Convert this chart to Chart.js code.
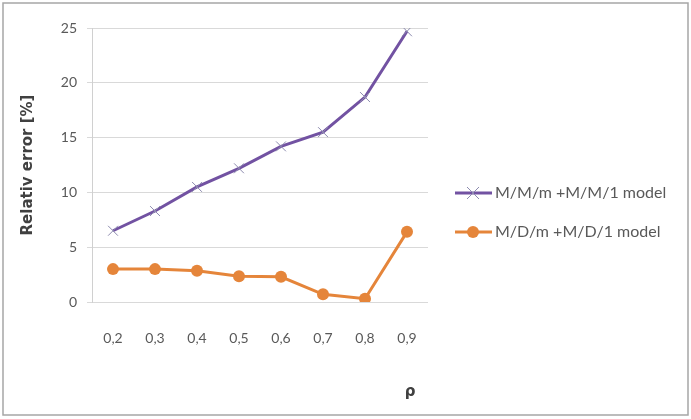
<!DOCTYPE html>
<html>
<head>
<meta charset="utf-8">
<script src="https://cdn.jsdelivr.net/npm/chart.js@4/dist/chart.umd.min.js"></script>
<style>
  html, body { margin: 0; padding: 0; background: #fff; }
  #wrap { position: relative; width: 691px; height: 419px; }
</style>
</head>
<body>
<div id="wrap"><canvas id="chart" width="691" height="419"></canvas></div>
<script>
// valeurs
const rhoLabels = ['0,2', '0,3', '0,4', '0,5', '0,6', '0,7', '0,8', '0,9'];
const mmValues = [6.5, 8.3, 10.5, 12.2, 14.2, 15.5, 18.7, 24.7];
const mdValues = [3.0, 3.0, 2.85, 2.35, 2.3, 0.7, 0.3, 6.4];
const seriesNames = ['M/M/m +M/M/1 model', 'M/D/m +M/D/1 model'];
const yTitle = 'Relativ error [%]';
const xTitle = 'ρ';

const purple = '#7252a2';
const crossColor = '#8c8aae';
const orange = '#e5853a';
const fontName = 'Lato, "Open Sans", sans-serif';

// legende dessinee a la main (ligne + marqueur comme dans Excel) + cadre + titre x
const extras = {
    id: 'extras',
    afterDraw(chart) {
        const ctx = chart.ctx;
        ctx.save();
        // cadre
        ctx.strokeStyle = '#a6a6a6';
        ctx.lineWidth = 1.5;
        ctx.strokeRect(3, 3, 685, 412);

        // titre x
        ctx.fillStyle = '#404040';
        ctx.font = 'bold 15px "DejaVu Sans", sans-serif';
        ctx.textAlign = 'center';
        ctx.textBaseline = 'middle';
        ctx.fillText(xTitle, 410, 392);

        // legende
        const rows = [193, 232];
        chart.data.datasets.forEach((ds, i) => {
            const y = rows[i];
            ctx.strokeStyle = ds.borderColor;
            ctx.lineWidth = 3;
            ctx.beginPath();
            ctx.moveTo(455, y);
            ctx.lineTo(492, y);
            ctx.stroke();
            if (i === 0) {
                ctx.strokeStyle = crossColor;
                ctx.lineWidth = 1;
                ctx.beginPath();
                ctx.moveTo(467, y - 6); ctx.lineTo(479, y + 6);
                ctx.moveTo(467, y + 6); ctx.lineTo(479, y - 6);
                ctx.stroke();
            } else {
                ctx.fillStyle = orange;
                ctx.beginPath();
                ctx.arc(473, y, 6, 0, Math.PI * 2);
                ctx.fill();
            }
            ctx.fillStyle = '#595959';
            ctx.font = '16px ' + fontName;
            ctx.textAlign = 'left';
            ctx.fillText(ds.label, 495, y);
        });
        ctx.restore();
    }
};

const ctx = document.getElementById('chart').getContext('2d');
new Chart(ctx, {
    type: 'line',
    data: {
        labels: rhoLabels,
        datasets: [{
            label: seriesNames[0],
            data: mmValues,
            borderColor: purple,
            borderWidth: 3,
            pointStyle: 'crossRot',
            pointRadius: 7,
            pointBorderWidth: 1,
            pointBorderColor: crossColor,
            pointBackgroundColor: crossColor,
            tension: 0
        }, {
            label: seriesNames[1],
            data: mdValues,
            borderColor: orange,
            borderWidth: 3,
            pointStyle: 'circle',
            pointRadius: 6,
            pointBorderWidth: 0,
            pointBackgroundColor: orange,
            tension: 0
        }]
    },
    options: {
        responsive: false,
        animation: false,
        layout: { padding: { left: 0, right: 263, top: 28, bottom: 0 } },
        plugins: {
            legend: { display: false },
            tooltip: { enabled: false }
        },
        scales: {
            x: {
                offset: true,
                grid: { display: false, drawTicks: false },
                border: { display: false },
                ticks: {
                    color: '#595959',
                    font: { family: fontName, size: 14 },
                    padding: 28
                },
                afterFit: s => { s.height = 117; }
            },
            y: {
                min: 0,
                max: 25,
                ticks: {
                    stepSize: 5,
                    color: '#595959',
                    font: { family: fontName, size: 14 },
                    padding: 10
                },
                grid: { color: '#d9d9d9', lineWidth: 1, tickLength: 5 },
                border: { display: true, color: '#d0d0d0' },
                title: {
                    display: true,
                    text: yTitle,
                    color: '#404040',
                    font: { family: '"DejaVu Sans", sans-serif', size: 15, weight: 'bold' },
                    padding: { top: 19, bottom: 0 }
                },
                afterFit: s => { s.width = 92; }
            }
        }
    },
    plugins: [extras]
});
</script>
</body>
</html>
